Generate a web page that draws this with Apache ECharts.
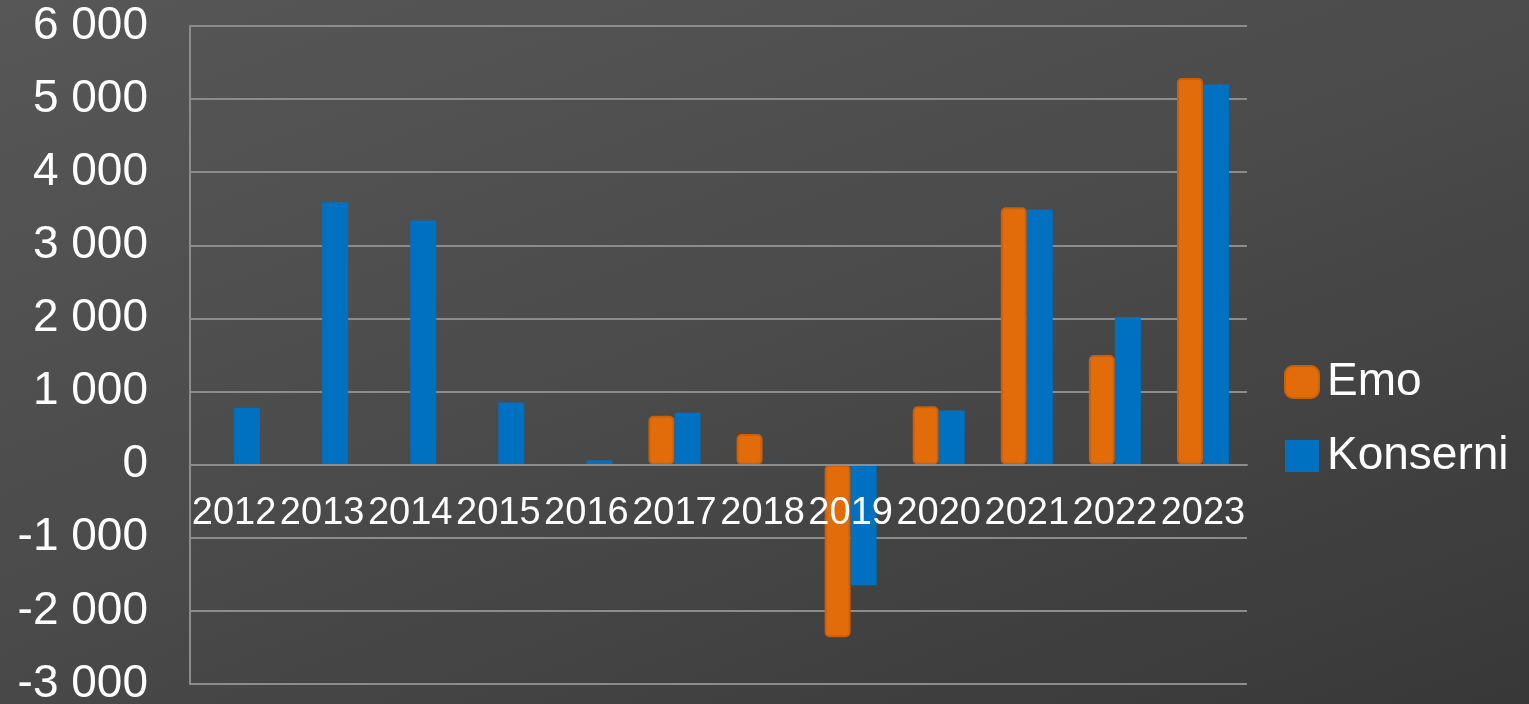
<!DOCTYPE html>
<html>
<head>
<meta charset="utf-8">
<script src="https://cdn.jsdelivr.net/npm/echarts@6/dist/echarts.min.js"></script>
<style>
  html, body { margin: 0; padding: 0; }
  #chart {
    width: 1529px; height: 704px;
    background: linear-gradient(160deg, #575757 0%, #4a4a4a 50%, #383838 100%);
  }
</style>
</head>
<body>
<div id="chart"></div>
<script>
var years = ['2012', '2013', '2014', '2015', '2016', '2017', '2018', '2019', '2020', '2021', '2022', '2023'];
var emo = [null, null, null, null, null, 670, 420, -2360, 800, 3520, 1500, 5290];
var konserni = [780, 3590, 3340, 850, 60, 710, 10, -1650, 740, 3490, 2020, 5200];
var yTicks = { min: -3000, max: 6000, step: 1000 };

var font = 'Liberation Sans, Arial, sans-serif';
var gridTop = 26, gridBottom = 20, chartH = 704;
var plotH = chartH - gridTop - gridBottom;
// the category axis sits on the zero line, so move it up from the bottom edge
var zeroOffset = -plotH * (0 - yTicks.min) / (yTicks.max - yTicks.min);

function thousands(v) {
    var s = String(Math.abs(v)).replace(/\B(?=(\d{3})+(?!\d))/g, ' ');
    return (v < 0 ? '-' : '') + s;
}

var myChart = echarts.init(document.getElementById('chart'));
var option = {
    backgroundColor: 'transparent',
    animation: false,
    grid: {
        left: 190,
        right: 282,
        top: gridTop,
        bottom: gridBottom,
        outerBoundsMode: 'none',
        containLabel: false
    },
    legend: {
        orient: 'vertical',
        left: 1284,
        top: 359,
        padding: 0,
        itemWidth: 34,
        itemHeight: 32,
        itemGap: 28,
        textStyle: { color: '#ffffff', fontSize: 46, fontFamily: font, padding: [0, 0, 0, 3] },
        data: [
            { name: 'Emo', icon: 'roundRect' },
            { name: 'Konserni', icon: 'rect' }
        ]
    },
    xAxis: {
        type: 'category',
        data: years,
        offset: zeroOffset,
        z: 5,
        axisLine: { onZero: false, lineStyle: { color: '#8c8c8c', width: 2 } },
        axisTick: { show: false },
        axisLabel: {
            color: '#ffffff',
            fontSize: 38,
            fontFamily: font,
            interval: 0,
            hideOverlap: false,
            margin: 30
        }
    },
    yAxis: {
        type: 'value',
        min: yTicks.min,
        max: yTicks.max,
        interval: yTicks.step,
        axisLine: { show: true, lineStyle: { color: '#8c8c8c', width: 2 } },
        axisTick: { show: false },
        splitLine: { lineStyle: { color: '#8c8c8c', width: 2 } },
        axisLabel: {
            color: '#ffffff',
            fontSize: 46,
            fontFamily: font,
            margin: 42,
            formatter: thousands
        }
    },
    series: [
        {
            name: 'Emo',
            type: 'bar',
            data: emo,
            barWidth: 26,
            barGap: '0%',
            itemStyle: { color: '#e36c0a', borderColor: '#c9600b', borderWidth: 2, borderRadius: 4 }
        },
        {
            name: 'Konserni',
            type: 'bar',
            data: konserni,
            barWidth: 26,
            barGap: '0%',
            itemStyle: { color: '#0070c0' }
        }
    ]
};
myChart.setOption(option);
</script>
</body>
</html>
